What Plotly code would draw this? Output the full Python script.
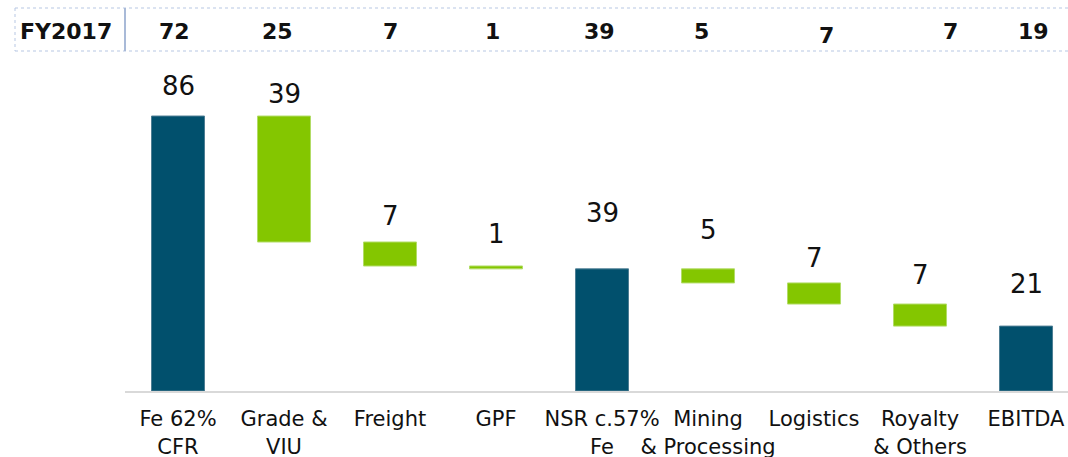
import plotly.graph_objects as go

# ---------------- data ----------------
categories = ["Fe 62%<br>CFR", "Grade &<br>VIU", "Freight", "GPF", "NSR c.57%<br>Fe",
              "Mining<br>& Processing", "Logistics", "Royalty<br>& Others", "EBITDA"]
measures = ["absolute", "relative", "relative", "relative", "total",
            "relative", "relative", "relative", "total"]
bar_values = [86, -39.4, -7.5, -0.9, 0, -4.4, -6.6, -6.9, 0]
bar_labels = ["86", "39", "7", "1", "39", "5", "7", "7", "21"]
fy_label = "FY2017"
fy_values = ["72", "25", "7", "1", "39", "5", "7", "7", "19"]

# ---------------- style ----------------
DARK = "#01506D"
GREEN = "#84C600"
FONT = "DejaVu Sans, Verdana, sans-serif"
label_yshift = [25, 17, 21, 27, 51, 34, 20, 24, 37]
fy_xshift = [-4, -7, 0, -4, -3, -7, 12, 30, 7]
fy_yshift = [0, 0, 0, 0, 0, 0, -4, 0, 0]

fig = go.Figure()
fig.add_trace(go.Waterfall(
    x=categories, y=bar_values, measure=measures,
    width=0.5,
    connector=dict(visible=False),
    increasing=dict(marker=dict(color=DARK, line=dict(color="#4d7d93", width=1))),
    decreasing=dict(marker=dict(color=GREEN, line=dict(color="#b2dc66", width=1))),
    totals=dict(marker=dict(color=DARK, line=dict(color="#4d7d93", width=1))),
    textposition="none", hoverinfo="skip", showlegend=False,
))

# bar tops computed from the running sum
tops = []
level = 0
for m, v in zip(measures, bar_values):
    if m == "absolute":
        level = v
        tops.append(level)
    elif m == "total":
        tops.append(level)
    else:
        tops.append(max(level, level + v))
        level += v

annotations = []
for cat, top, lab, ys in zip(categories, tops, bar_labels, label_yshift):
    annotations.append(dict(x=cat, y=top, xref="x", yref="y", text=lab, showarrow=False,
                            yanchor="bottom", yshift=ys - 12,
                            font=dict(family=FONT, size=26, color="#111111")))

# pixel -> paper helpers
def px(p):
    return (p - 125) / 943

def py(q):
    return (391 - q) / 321

# top table row
Y_ROW = py(31)
annotations.append(dict(x=px(66), y=Y_ROW, xref="paper", yref="paper", text="<b>" + fy_label + "</b>",
                        showarrow=False, xanchor="center", yanchor="middle",
                        font=dict(family=FONT, size=22, color="#111111")))
for cat, val, xs, ys in zip(categories, fy_values, fy_xshift, fy_yshift):
    annotations.append(dict(x=cat, y=Y_ROW, xref="x", yref="paper", text="<b>" + val + "</b>",
                            showarrow=False, xanchor="center", yanchor="middle", xshift=xs, yshift=ys,
                            font=dict(family=FONT, size=22, color="#111111")))

shapes = [
    dict(type="line", xref="paper", yref="paper", x0=px(15), x1=px(1070), y0=py(8), y1=py(8),
         line=dict(color="#b7c7e3", width=1, dash="dot")),
    dict(type="line", xref="paper", yref="paper", x0=px(15), x1=px(1070), y0=py(51), y1=py(51),
         line=dict(color="#b7c7e3", width=1, dash="dot")),
    dict(type="line", xref="paper", yref="paper", x0=px(15), x1=px(15), y0=py(8), y1=py(51),
         line=dict(color="#b7c7e3", width=1, dash="dot")),
    dict(type="line", xref="paper", yref="paper", x0=px(125), x1=px(125), y0=py(8), y1=py(51),
         line=dict(color="#a9bad8", width=2)),
]

fig.update_layout(
    width=1068, height=457,
    margin=dict(l=125, r=0, t=70, b=66, autoexpand=False),
    paper_bgcolor="white", plot_bgcolor="white",
    font=dict(family=FONT, size=21, color="#111111"),
    xaxis=dict(type="category", range=[-0.5, 8.396], showline=True, linecolor="#D9D9D9", linewidth=2,
               showgrid=False, ticks="", tickangle=0, automargin=False, ticklabelstandoff=8,
               tickfont=dict(family=FONT, size=21, color="#111111")),
    yaxis=dict(visible=False, range=[0, 100.4], showgrid=False, zeroline=False, automargin=False),
    annotations=annotations, shapes=shapes,
)

fig.write_html("out.html", config={"displayModeBar": False},
               post_script="document.body.style.margin='0';document.body.style.overflow='hidden';")
